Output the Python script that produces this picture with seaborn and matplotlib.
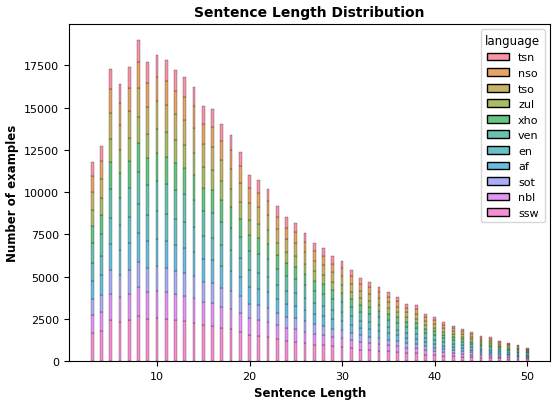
import pandas as pd
import seaborn as sns
import matplotlib.pyplot as plt

lengths = list(range(3, 51))
totals = [11800, 12700, 17300, 16400, 17400, 19000, 17700, 18100, 17800, 17200,
          16800, 16200, 15100, 14900, 14000, 13400, 12400, 11000, 10700, 10200,
          9200, 8500, 8200, 7600, 7000, 6700, 6200, 5900, 5400, 4900,
          4700, 4400, 4100, 3800, 3400, 3300, 2800, 2600, 2300, 2100,
          1900, 1700, 1500, 1400, 1200, 1100, 950, 800]
languages = ['tsn', 'nso', 'tso', 'zul', 'xho', 'ven', 'en', 'af', 'sot', 'nbl', 'ssw']
# approximate share of each language in every length bar
shares = [0.07, 0.08, 0.09, 0.08, 0.09, 0.10, 0.09, 0.09, 0.08, 0.09, 0.14]

rows = []
for lang, s in zip(languages, shares):
    for n, t in zip(lengths, totals):
        rows.append({'length': n, 'language': lang, 'count': t * s})
df = pd.DataFrame(rows)

plt.rcParams.update({'xtick.labelsize': 8, 'ytick.labelsize': 8,
                     'legend.fontsize': 8, 'legend.title_fontsize': 8.5})
fig, ax = plt.subplots(figsize=(5.56, 4.06), dpi=100)
sns.histplot(data=df, x='length', hue='language', weights='count', hue_order=languages,
             multiple='stack', discrete=True, shrink=0.3, ax=ax)
ax.set_title('Sentence Length Distribution', fontweight='bold', fontsize=10)
ax.set_xlabel('Sentence Length', fontweight='bold', fontsize=8.5)
ax.set_ylabel('Number of examples', fontweight='bold', fontsize=8.5)
plt.tight_layout(pad=0.4)
plt.savefig('out.png')
